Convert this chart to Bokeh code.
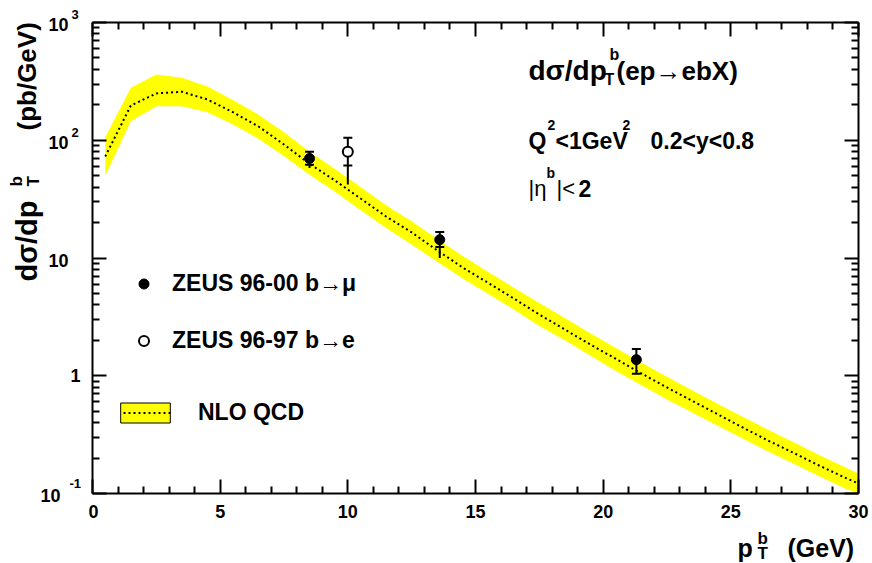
import numpy as np
from bokeh.plotting import figure
from bokeh.layouts import row, column
from bokeh.models import (ColumnDataSource, FixedTicker, LinearAxis, LogAxis, Label,
                          Legend, LegendItem, Range1d, CustomJSTickFormatter)
from bokeh.core.properties import value
from bokeh.embed import file_html
from bokeh.resources import INLINE

FONT = "Liberation Sans"

# ---------------- data ----------------
# NLO QCD prediction (band edges and central curve)
pt_grid = [0.5, 1.5, 2.5, 3.5, 4.5, 5.5, 6.5, 7.5, 8.5, 9.5, 10.5, 11.5, 12.5, 13.5,
           14.5, 15.5, 16.5, 17.5, 18.5, 19.5, 20.5, 21.5, 22.5, 23.5, 24.5, 25.5,
           26.5, 27.5, 28.5, 29.5, 30.0]
nlo_central = [72.8, 197, 250, 258, 222, 173, 131, 92, 63, 45.5, 32, 22.5, 16.5, 11.6,
               8.3, 6.14, 4.53, 3.31, 2.47, 1.84, 1.39, 1.045, 0.795, 0.61, 0.469, 0.36,
               0.279, 0.219, 0.171, 0.1355, 0.1216]
nlo_upper = [106, 279, 361, 339, 286, 220, 165, 117, 80, 57, 40, 28, 20.5, 14.5,
             10.4, 7.6, 5.6, 4.15, 3.1, 2.3, 1.72, 1.29, 0.98, 0.75, 0.575, 0.445,
             0.345, 0.27, 0.21, 0.166, 0.148]
nlo_lower = [50, 145, 194, 194, 173, 136, 103, 73, 51, 36.5, 25.5, 18, 13, 9.3,
             6.7, 4.95, 3.65, 2.65, 2.0, 1.48, 1.1, 0.83, 0.63, 0.485, 0.375, 0.29,
             0.225, 0.177, 0.139, 0.11, 0.1]

# ZEUS 96-00 b -> mu
mu_pt = [8.5, 13.6, 21.3]
mu_val = [70, 14.3, 1.37]
mu_stat_hi = [80, 16.6, 1.69]
mu_stat_lo = [62, 12.4, 1.04]
mu_tot_hi = [81, 16.6, 1.69]
mu_tot_lo = [58, 10.0, 1.04]

# ZEUS 96-97 b -> e
e_pt = [10.0]
e_val = [80]
e_stat_hi = [105]
e_stat_lo = [61]
e_tot_hi = [105]
e_tot_lo = [42]

# axes
x_lo, x_hi = 0, 30
y_lo, y_hi = 0.1, 1000
x_ticks = [0, 5, 10, 15, 20, 25, 30]
x_minor = [v for v in range(0, 31) if v % 5 != 0]
y_ticks = [0.1, 1, 10, 100, 1000]
y_minor = [m * d for d in (0.1, 1, 10, 100) for m in range(2, 10)]
y_tick_base = ["10", "1", "10", "10", "10"]
y_tick_exp = ["-1", "", "", "2", "3"]

ARROW = "\u2192"

# ---------------- geometry (page pixels) ----------------
W, H = 872, 563
FL, FR, FT, FB = 92, 858, 22, 493      # frame edges on the page
STRIP_W = 88                           # left strip with y tick labels and y title
MAIN_H = 527                           # main figure height (x title strip below)
STRIP_H = H - MAIN_H


def bare(width, height, **kw):
    f = figure(width=width, height=height, output_backend="svg", toolbar_location=None,
               x_axis_location=None, y_axis_location=None, min_border=0,
               outline_line_color=None, background_fill_color="white",
               border_fill_color="white", frame_align=False, **kw)
    f.grid.visible = False
    return f


p = figure(frame_width=FR - FL, frame_height=FB - FT,
           x_range=Range1d(x_lo, x_hi), y_range=Range1d(y_lo, y_hi),
           y_axis_type="log", output_backend="svg", toolbar_location=None,
           min_border_left=FL - STRIP_W, min_border_top=FT,
           min_border_right=W - FR, min_border_bottom=MAIN_H - FB,
           background_fill_color="white", border_fill_color="white",
           outline_line_color=None, frame_align=False)
p.grid.visible = False

blank = CustomJSTickFormatter(code="return ''")


def style_axis(ax, ticks, minor, labels=True):
    ax.ticker = FixedTicker(ticks=ticks, minor_ticks=minor)
    ax.axis_line_width = 2
    ax.axis_line_color = "black"
    ax.major_tick_line_width = 2
    ax.minor_tick_line_width = 2
    ax.major_tick_line_color = "black"
    ax.minor_tick_line_color = "black"
    ax.major_tick_in = 14
    ax.major_tick_out = 0
    ax.minor_tick_in = 7
    ax.minor_tick_out = 0
    if labels:
        ax.major_label_text_font = FONT
        ax.major_label_text_font_style = "bold"
        ax.major_label_text_font_size = "18px"
        ax.major_label_text_color = "black"
        ax.major_label_standoff = 11
    else:
        ax.formatter = blank
        ax.major_label_standoff = 0


style_axis(p.xaxis[0], x_ticks, x_minor, labels=True)
style_axis(p.yaxis[0], y_ticks, y_minor, labels=False)

top = LinearAxis()
style_axis(top, x_ticks, x_minor, labels=False)
p.add_layout(top, "above")
right = LogAxis()
style_axis(right, y_ticks, y_minor, labels=False)
p.add_layout(right, "right")

# ---------------- glyphs ----------------
band_src = ColumnDataSource(dict(pt=pt_grid, lo=nlo_lower, hi=nlo_upper, c=nlo_central))
band = p.varea(x="pt", y1="lo", y2="hi", source=band_src, fill_color="#ffff00")
central = p.line(x="pt", y="c", source=band_src, line_color="black", line_width=2,
                 line_dash="2 3")
# legend-only helpers (not drawn in the plot): swatch outline and inset dotted line
box_src = ColumnDataSource(dict(l=pt_grid[:1], r=pt_grid[1:2], b=nlo_lower[:1], t=nlo_upper[:1]))
box = p.quad(left="l", right="r", top="t", bottom="b", source=box_src, fill_alpha=0,
             line_color="black", line_width=1)
box.visible = False
legend_dots = p.line(x="pt", y="c", source=band_src, line_color="black", line_width=2,
                     line_dash="0 9 2 3 2 3 2 3 2 3 2 3 2 3 2 3 2 3 2 3 2 30")
legend_dots.visible = False

mu_src = ColumnDataSource(dict(x=mu_pt, y=mu_val, shi=mu_stat_hi, slo=mu_stat_lo,
                               thi=mu_tot_hi, tlo=mu_tot_lo))
e_src = ColumnDataSource(dict(x=e_pt, y=e_val, shi=e_stat_hi, slo=e_stat_lo,
                              thi=e_tot_hi, tlo=e_tot_lo))
for src in (mu_src, e_src):
    p.segment(x0="x", y0="tlo", x1="x", y1="thi", source=src, line_color="black", line_width=2)
    p.scatter(x="x", y="shi", source=src, marker="dash", size=9, line_color="black", line_width=2)
    p.scatter(x="x", y="slo", source=src, marker="dash", size=9, line_color="black", line_width=2)

mu_pts = p.scatter(x="x", y="y", source=mu_src, marker="circle", size=10,
                   fill_color="black", line_color="black", line_width=1)
e_pts = p.scatter(x="x", y="y", source=e_src, marker="circle", size=10,
                  fill_color="white", line_color="black", line_width=2)

# ---------------- legends ----------------


def add_legend(label, renderers, gw, gh, standoff, loc):
    lg = Legend(items=[LegendItem(label=value(label), renderers=renderers)],
                location=loc, orientation="vertical", padding=0, margin=0, spacing=0,
                glyph_width=gw, glyph_height=gh, label_standoff=standoff,
                label_height=gh, label_text_font=FONT, label_text_font_style="bold",
                label_text_font_size="23px", label_text_color="black",
                background_fill_alpha=0, border_line_alpha=0)
    p.add_layout(lg)


add_legend("ZEUS 96-00 b" + ARROW + "\u03bc", [mu_pts], 25, 25, 16, (39, FB - 297))
add_legend("ZEUS 96-97 b" + ARROW + "e", [e_pts], 25, 25, 16, (39, FB - 354))
add_legend("NLO QCD", [band, box, legend_dots], 62, 25, 22, (22, FB - 426))

# ---------------- texts ----------------


def put(fig, text, x, y, size, bold=True, align="left", baseline="alphabetic",
        angle=0.0, x_units="screen", y_units="screen", y_offset=0):
    fig.add_layout(Label(x=x, y=y, x_units=x_units, y_units=y_units, y_offset=y_offset,
                         text=text, text_font=FONT, text_font_size=f"{size}px",
                         text_font_style="bold" if bold else "normal",
                         text_color="black", text_align=align,
                         text_baseline=baseline, angle=angle))


def put_main(text, px, py, size, **kw):
    put(p, text, px - FL, FB - py, size, **kw)


# title block (inside the frame)
put_main("d\u03c3/dp", 528, 70, 28)
put_main("T", 604, 79, 16)
put_main("b", 609, 54, 16)
put_main("(ep" + ARROW + "ebX)", 616, 70, 26)

put_main("Q", 528, 140, 23)
put_main("2", 547, 124, 14)
put_main("<1GeV", 555, 140, 23)
put_main("2", 622, 124, 14)
put_main("0.2<y<0.8", 650, 140, 23)

put_main("|\u03b7", 528, 188, 22, bold=False)
put_main("b", 546, 172, 14)
put_main("|<", 556, 188, 22, bold=False)
put_main("2", 578, 188, 23)

# ---------------- left strip: y tick labels and y title ----------------
dec_px = (FB - FT) / (np.log10(y_hi) - np.log10(y_lo))
left = bare(STRIP_W, MAIN_H,
            x_range=Range1d(0, 1),
            y_range=Range1d(10 ** (np.log10(y_lo) - (MAIN_H - FB) / dec_px),
                            10 ** (np.log10(y_hi) + FT / dec_px)),
            y_axis_type="log")

for val, base, ex in zip(y_ticks, y_tick_base, y_tick_exp):
    if ex:
        neg = ex.startswith("-")
        put(left, ex, 69 if neg else 71, val, 13, baseline="middle",
            y_units="data", y_offset=10 if neg else 8)
        put(left, base, 60 if neg else 68, val, 18, align="right", baseline="middle",
            y_units="data", y_offset=-2)
    else:
        put(left, base, 80 if base == "1" else 68, val, 18, align="right",
            baseline="middle", y_units="data", y_offset=-2 if base != "1" else 0)

ang = np.pi / 2
put(left, "d\u03c3/dp", 26, MAIN_H - 281, 29, angle=ang)
put(left, "T", 33, MAIN_H - 186, 17, angle=ang)
put(left, "b", 16, MAIN_H - 186, 17, angle=ang)
put(left, "(pb/GeV)", 26, MAIN_H - 130, 26, angle=ang)

# ---------------- bottom strip: x title ----------------
bottom = bare(W, STRIP_H, x_range=Range1d(0, 1), y_range=Range1d(0, 1))
put(bottom, "p", 737, H - 547, 25)
put(bottom, "b", 757, H - 538, 17)
put(bottom, "T", 757, H - 553, 17)
put(bottom, "(GeV)", 787, H - 547, 25)

layout = column(row(left, p, spacing=0), bottom, spacing=0)
open("out.html", "w").write(file_html(layout, INLINE))
